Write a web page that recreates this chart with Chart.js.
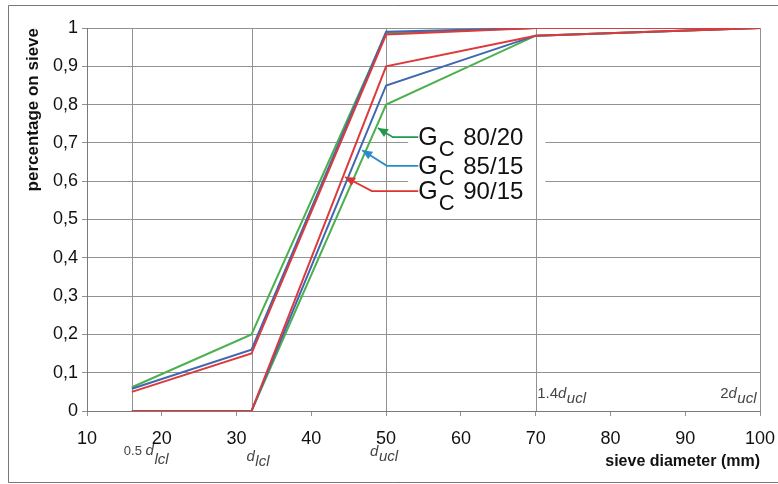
<!DOCTYPE html>
<html>
<head>
<meta charset="utf-8">
<script src="https://cdn.jsdelivr.net/npm/chart.js@4.4.0/dist/chart.umd.min.js"></script>
<style>
  html, body { margin: 0; padding: 0; background: #fff; }
  #wrap { width: 778px; height: 484px; }
</style>
</head>
<body>
<div id="wrap"><canvas id="chart" width="778" height="484"></canvas></div>
<script>
// sieve sizes (mm) and the grading envelopes for each G_C category
const sieves = [16, 32, 50, 70, 100];
const gc8020Upper = [0.062, 0.20, 0.987, 1, 1];
const gc8020Lower = [0, 0, 0.80, 0.98, 1];
const gc8515Upper = [0.058, 0.16, 0.99, 1, 1];
const gc8515Lower = [0, 0, 0.85, 0.98, 1];
const gc9015Upper = [0.05, 0.15, 0.983, 1, 1];
const gc9015Lower = [0, 0, 0.90, 0.98, 1];

const gradeNames = ['80/20', '85/15', '90/15'];
const yTickLabels = ['0', '0,1', '0,2', '0,3', '0,4', '0,5', '0,6', '0,7', '0,8', '0,9', '1'];
// labels under / on the sieve lines: [prefix, main, subscript]
const sieveLabels = [
    ['0.5 ', 'd', 'lcl'],
    ['', 'd', 'lcl'],
    ['', 'd', 'ucl'],
    ['1.4', 'd', 'ucl'],
    ['2', 'd', 'ucl']
];

const GREEN = '#4db04f';
const BLUE = '#3f68b0';
const RED = '#dc3a3c';
const GRID = '#929292';
const FONT = '"Liberation Sans", Arial, sans-serif';

function toPoints(ys) {
    return sieves.map((x, i) => ({ x: x, y: ys[i] }));
}

function lineSet(ys, color) {
    return {
        data: toPoints(ys),
        borderColor: color,
        borderWidth: 2,
        pointRadius: 0,
        showLine: true,
        tension: 0
    };
}

// arrow callouts, in data units
const callouts = [
    { color: '#22984a', tip: [48.9, 0.739], elbowX: 50.9, y: 0.715 },
    { color: '#2a8bcc', tip: [46.8, 0.681], elbowX: 50.1, y: 0.640 },
    { color: '#e0332f', tip: [44.5, 0.611], elbowX: 48.1, y: 0.574 }
];

const decorPlugin = {
    id: 'decor',
    beforeDatasetsDraw(chart) {
        const { ctx, scales: { x, y }, chartArea } = chart;
        ctx.save();
        // white box behind the callout text
        ctx.fillStyle = '#fff';
        ctx.fillRect(x.getPixelForValue(52.95), y.getPixelForValue(0.745),
            x.getPixelForValue(71.3) - x.getPixelForValue(52.95),
            y.getPixelForValue(0.55) - y.getPixelForValue(0.745));
        // vertical lines at the sieve sizes
        ctx.strokeStyle = GRID;
        ctx.lineWidth = 1;
        sieves.forEach(s => {
            const px = Math.round(x.getPixelForValue(s)) + 0.5;
            ctx.beginPath();
            ctx.moveTo(px, chartArea.top);
            ctx.lineTo(px, chartArea.bottom);
            ctx.stroke();
        });
        ctx.restore();
    },
    afterDatasetsDraw(chart) {
        const { ctx, scales: { x, y } } = chart;
        ctx.save();
        // callout arrows + labels
        callouts.forEach((c, i) => {
            const tx = x.getPixelForValue(c.tip[0]);
            const ty = y.getPixelForValue(c.tip[1]);
            const ex = x.getPixelForValue(c.elbowX);
            const ly = y.getPixelForValue(c.y);
            const sx = x.getPixelForValue(54.3);
            ctx.strokeStyle = c.color;
            ctx.fillStyle = c.color;
            ctx.lineWidth = 1.8;
            ctx.beginPath();
            ctx.moveTo(sx, ly);
            ctx.lineTo(ex, ly);
            ctx.lineTo(tx, ty);
            ctx.stroke();
            const ang = Math.atan2(ty - ly, tx - ex);
            const len = 10, half = 4.5;
            ctx.beginPath();
            ctx.moveTo(tx, ty);
            ctx.lineTo(tx - len * Math.cos(ang) + half * Math.sin(ang), ty - len * Math.sin(ang) - half * Math.cos(ang));
            ctx.lineTo(tx - len * Math.cos(ang) - half * Math.sin(ang), ty - len * Math.sin(ang) + half * Math.cos(ang));
            ctx.closePath();
            ctx.fill();

            ctx.fillStyle = '#111';
            ctx.textBaseline = 'alphabetic';
            ctx.textAlign = 'left';
            const base = ly + 8;
            ctx.font = '25px ' + FONT;
            ctx.fillText('G', sx, base);
            const gw = ctx.measureText('G').width;
            ctx.font = '22px ' + FONT;
            ctx.fillText('C', sx + gw + 1, base + 11);
            ctx.font = '24px ' + FONT;
            ctx.fillText(gradeNames[i], sx + 45, base);
        });

        // sieve size labels
        const place = [
            { dx: -8, base: 455, sub: 9, pre: 13 },
            { dx: -5, base: 461, sub: 5, pre: 15 },
            { dx: -16, base: 456, sub: 5, pre: 15 },
            { dx: 1.5, base: 398, sub: 5, pre: 15 },
            { dx: null, base: 398, sub: 5, pre: 15 }
        ];
        ctx.fillStyle = '#444';
        ctx.textBaseline = 'alphabetic';
        ctx.textAlign = 'left';
        sieveLabels.forEach((lab, i) => {
            const p = place[i];
            const fPre = p.pre + 'px ' + FONT;
            const fMain = 'italic 15px ' + FONT;
            const fSub = 'italic 15px ' + FONT;
            ctx.font = fPre; const w0 = ctx.measureText(lab[0]).width;
            ctx.font = fMain; const w1 = ctx.measureText(lab[1]).width;
            ctx.font = fSub; const w2 = ctx.measureText(lab[2]).width;
            const px = x.getPixelForValue(sieves[i]);
            let left = p.dx === null ? px - 4 - (w0 + w1 + w2) : px + p.dx;
            ctx.font = fPre; ctx.fillText(lab[0], left, p.base);
            ctx.font = fMain; ctx.fillText(lab[1], left + w0, p.base);
            ctx.font = fSub; ctx.fillText(lab[2], left + w0 + w1 + 0.5, p.base + p.sub);
        });
        ctx.restore();
    },
    afterDraw(chart) {
        const { ctx, width, height } = chart;
        ctx.save();
        ctx.strokeStyle = '#777';
        ctx.lineWidth = 1;
        ctx.beginPath();
        ctx.moveTo(width, 5.5);
        ctx.lineTo(8.5, 5.5);
        ctx.lineTo(8.5, height - 1.5);
        ctx.lineTo(width, height - 1.5);
        ctx.stroke();
        ctx.restore();
    }
};

new Chart(document.getElementById('chart'), {
    type: 'scatter',
    data: {
        // first dataset is painted last, so red ends up on top
        datasets: [
            lineSet(gc9015Lower, RED),
            lineSet(gc9015Upper, RED),
            lineSet(gc8515Upper, BLUE),
            lineSet(gc8515Lower, BLUE),
            lineSet(gc8020Upper, GREEN),
            lineSet(gc8020Lower, GREEN)
        ]
    },
    options: {
        responsive: false,
        animation: false,
        layout: { padding: { left: 8, top: 28, right: 18, bottom: 0 } },
        plugins: {
            legend: { display: false },
            tooltip: { enabled: false }
        },
        scales: {
            x: {
                type: 'linear',
                min: 10,
                max: 100,
                afterFit: s => { s.height = 73; s.paddingLeft = 0; s.paddingRight = 0; },
                border: { color: '#7a7a7a', width: 1 },
                grid: { drawOnChartArea: false, drawTicks: true, tickLength: 5, color: GRID },
                ticks: {
                    stepSize: 10,
                    color: '#111',
                    padding: 12,
                    maxRotation: 0,
                    font: { family: FONT, size: 18 }
                },
                title: {
                    display: true,
                    text: 'sieve diameter (mm)',
                    align: 'end',
                    color: '#111',
                    padding: { bottom: 13 },
                    font: { family: FONT, size: 16, weight: 'bold' }
                }
            },
            y: {
                min: 0,
                max: 1,
                afterFit: s => { s.width = 79; s.paddingTop = 0; s.paddingBottom = 0; },
                border: { color: '#7a7a7a', width: 1 },
                grid: { color: GRID, tickLength: 5 },
                ticks: {
                    stepSize: 0.1,
                    color: '#111',
                    padding: 4,
                    font: { family: FONT, size: 18 },
                    callback: (v, i) => yTickLabels[i]
                },
                title: {
                    display: true,
                    text: 'percentage on sieve',
                    align: 'end',
                    color: '#111',
                    padding: { top: 15 },
                    font: { family: FONT, size: 17, weight: 'bold' }
                }
            }
        }
    },
    plugins: [decorPlugin]
});
</script>
</body>
</html>
